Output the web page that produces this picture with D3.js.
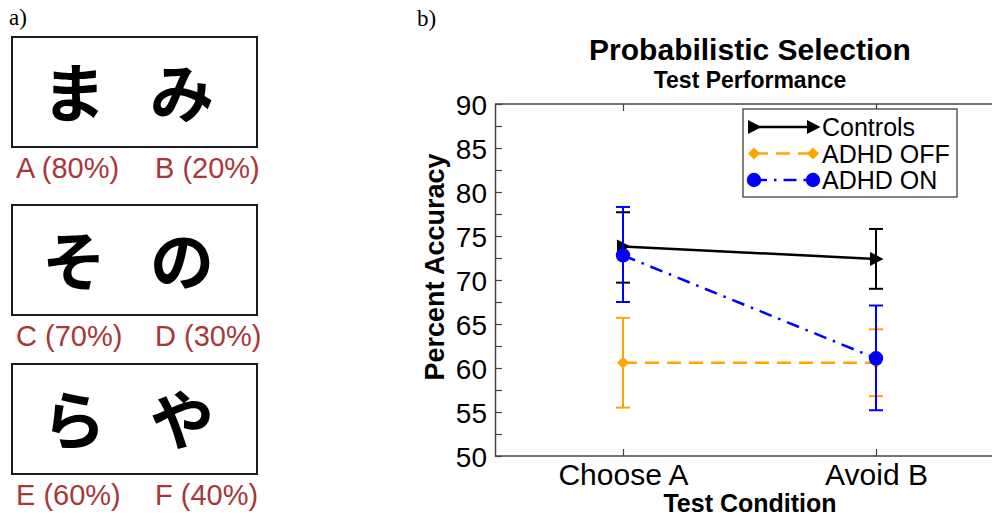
<!DOCTYPE html>
<html>
<head>
<meta charset="utf-8">
<script src="https://cdn.jsdelivr.net/npm/d3@7"></script>
<style>
  body { margin: 0; background: #fff; }
  svg { display: block; }
</style>
</head>
<body>
<script>
// panel a: stimuli
const kana = ["ま", "み", "そ", "の", "ら", "や"];
const kanaLetters = ["A", "B", "C", "D", "E", "F"];
const kanaProb = [80, 20, 70, 30, 60, 40];

// panel b: test performance
const conditions = ["Choose A", "Avoid B"];
const groups = ["Controls", "ADHD OFF", "ADHD ON"];
const controlsMean = [73.8, 72.4];
const controlsLow = [69.7, 69.0];
const controlsHigh = [77.7, 75.8];
const offMean = [60.6, 60.6];
const offLow = [55.5, 56.8];
const offHigh = [65.7, 64.4];
const onMean = [72.8, 61.1];
const onLow = [67.5, 55.2];
const onHigh = [78.3, 67.1];
const yTicks = [50, 55, 60, 65, 70, 75, 80, 85, 90];
const yMinor = [52.5, 57.5, 62.5, 67.5, 72.5, 77.5, 82.5, 87.5];

const W = 992, H = 517;
const svg = d3.select("body").append("svg").attr("width", W).attr("height", H);

const sans = "'Liberation Sans', Arial, Helvetica, sans-serif";
const serif = "'Liberation Serif', 'Times New Roman', serif";

// ---------- panel a ----------
svg.append("text").attr("x", 9).attr("y", 25)
  .attr("font-family", serif).attr("font-size", 23).text("a)");

const pairs = d3.range(3);
const boxTop = d3.scaleOrdinal().domain(pairs).range([37, 205, 364]);
const boxH = 110;
const colX = d3.scalePoint().domain([0, 1]).range([74, 182]);
const labX = d3.scalePoint().domain([0, 1]).range([16, 155]);

const pa = svg.append("g");
pa.selectAll("rect.box").data(pairs).enter().append("rect")
  .attr("class", "box")
  .attr("x", 12).attr("y", d => boxTop(d))
  .attr("width", 245).attr("height", boxH)
  .attr("fill", "none").attr("stroke", "#1a1a1a").attr("stroke-width", 2);

const stim = kana.map((k, i) => ({k: k, letter: kanaLetters[i], p: kanaProb[i], row: Math.floor(i / 2), col: i % 2}));

pa.selectAll("text.kana").data(stim).enter().append("text")
  .attr("class", "kana")
  .attr("x", d => colX(d.col))
  .attr("y", d => boxTop(d.row) + 80)
  .attr("text-anchor", "middle")
  .attr("font-family", "'Noto Sans CJK JP', sans-serif")
  .attr("font-weight", 700)
  .attr("font-size", 64)
  .attr("fill", "#000")
  .text(d => d.k);

pa.selectAll("text.lab").data(stim).enter().append("text")
  .attr("class", "lab")
  .attr("x", d => labX(d.col))
  .attr("y", d => boxTop(d.row) + boxH + 31)
  .attr("font-family", sans).attr("font-size", 29)
  .attr("fill", "#a8373a")
  .text(d => d.letter + " (" + d.p + "%)");

// ---------- panel b ----------
svg.append("text").attr("x", 417).attr("y", 26)
  .attr("font-family", serif).attr("font-size", 23).text("b)");

const pLeft = 495, pRight = 992, pTop = 104, pBottom = 456;
const y = d3.scaleLinear().domain([50, 90]).range([pBottom, pTop]);
const x = d3.scalePoint().domain(conditions).range([623, 876]);

const g = svg.append("g");
const axisCol = "#444";

// frame lines
g.append("line").attr("x1", pLeft).attr("x2", pRight).attr("y1", pTop).attr("y2", pTop)
  .attr("stroke", axisCol).attr("stroke-width", 1.5);
g.append("line").attr("x1", pLeft).attr("x2", pRight).attr("y1", pBottom).attr("y2", pBottom)
  .attr("stroke", axisCol).attr("stroke-width", 1.5);

// y axis with inward ticks
const yAxis = d3.axisLeft(y).tickValues(yTicks.concat(yMinor)).tickSizeInner(-7).tickSizeOuter(0)
  .tickFormat(d => yTicks.includes(d) ? d : "");
const ya = g.append("g").attr("transform", "translate(" + pLeft + ",0)").call(yAxis);
ya.select(".domain").attr("stroke", axisCol).attr("stroke-width", 1.5);
ya.selectAll(".tick line").attr("stroke", axisCol).attr("stroke-width", 1.2);
ya.selectAll(".tick text").attr("x", -8).attr("dy", "0.36em")
  .attr("font-family", sans).attr("font-size", 28).attr("fill", "#000");

// x axis, bottom
const xAxis = d3.axisBottom(x).tickSizeInner(-7).tickSizeOuter(0);
const xa = g.append("g").attr("transform", "translate(0," + pBottom + ")").call(xAxis);
xa.select(".domain").remove();
xa.selectAll(".tick line").attr("stroke", axisCol).attr("stroke-width", 1.2);
xa.selectAll(".tick text").attr("y", 29).attr("dy", 0)
  .attr("font-family", sans).attr("font-size", 30).attr("fill", "#000");

// top ticks
const xTop = d3.axisTop(x).tickSizeInner(-7).tickSizeOuter(0).tickFormat("");
const xt = g.append("g").attr("transform", "translate(0," + pTop + ")").call(xTop);
xt.select(".domain").remove();
xt.selectAll(".tick line").attr("stroke", axisCol).attr("stroke-width", 1.2);

// titles
svg.append("text").attr("x", 750).attr("y", 60).attr("text-anchor", "middle")
  .attr("font-family", sans).attr("font-weight", "bold").attr("font-size", 30)
  .text("Probabilistic Selection");
svg.append("text").attr("x", 750).attr("y", 88).attr("text-anchor", "middle")
  .attr("font-family", sans).attr("font-weight", "bold").attr("font-size", 23)
  .text("Test Performance");
svg.append("text").attr("x", 750).attr("y", 512).attr("text-anchor", "middle")
  .attr("font-family", sans).attr("font-weight", "bold").attr("font-size", 25)
  .text("Test Condition");
svg.append("text").attr("transform", "translate(444,267) rotate(-90)").attr("text-anchor", "middle")
  .attr("font-family", sans).attr("font-weight", "bold").attr("font-size", 27)
  .text("Percent Accuracy");

// series
const triPath = "M-6,-7L7.5,0L-6,7Z";
const diamond = d3.symbol().type(d3.symbolSquare).size(72)();
const circle = d3.symbol().type(d3.symbolCircle).size(Math.PI * 52)();

const series = [
  {name: groups[0], mean: controlsMean, lo: controlsLow, hi: controlsHigh, color: "#000", dash: null, marker: triPath, rot: 0},
  {name: groups[1], mean: offMean, lo: offLow, hi: offHigh, color: "#ffa500", dash: "14,8", marker: diamond, rot: 45},
  {name: groups[2], mean: onMean, lo: onLow, hi: onHigh, color: "#0000ff", dash: "13,7,2.5,7", marker: circle, rot: 0}
];

const line = d3.line().x(d => x(d.c)).y(d => y(d.v));

series.forEach(s => {
  const pts = conditions.map((c, i) => ({c: c, v: s.mean[i], lo: s.lo[i], hi: s.hi[i]}));
  const sg = g.append("g");
  // error bars
  sg.selectAll("line.err").data(pts).enter().append("line")
    .attr("x1", d => x(d.c)).attr("x2", d => x(d.c))
    .attr("y1", d => y(d.lo)).attr("y2", d => y(d.hi))
    .attr("stroke", s.color).attr("stroke-width", 2);
  ["lo", "hi"].forEach(k => {
    sg.selectAll("line.cap" + k).data(pts).enter().append("line")
      .attr("x1", d => x(d.c) - 7).attr("x2", d => x(d.c) + 7)
      .attr("y1", d => y(d[k])).attr("y2", d => y(d[k]))
      .attr("stroke", s.color).attr("stroke-width", 2);
  });
  sg.append("path").datum(pts).attr("d", line)
    .attr("fill", "none").attr("stroke", s.color).attr("stroke-width", 2.5)
    .attr("stroke-dasharray", s.dash);
  sg.selectAll("path.mk").data(pts).enter().append("path")
    .attr("d", s.marker)
    .attr("transform", d => "translate(" + x(d.c) + "," + y(d.v) + ") rotate(" + s.rot + ")")
    .attr("fill", s.color);
});

// legend
const lg = svg.append("g");
lg.append("rect").attr("x", 743).attr("y", 109).attr("width", 214).attr("height", 88)
  .attr("fill", "#fff").attr("stroke", "#333").attr("stroke-width", 1.2);
const ly = d3.scalePoint().domain(groups).range([127, 180]);
series.forEach(s => {
  const yy = ly(s.name);
  lg.append("line").attr("x1", 754).attr("x2", 813).attr("y1", yy).attr("y2", yy)
    .attr("stroke", s.color).attr("stroke-width", 2.5).attr("stroke-dasharray", s.dash);
  [754, 813].forEach(xx => {
    lg.append("path").attr("d", s.marker)
      .attr("transform", "translate(" + xx + "," + yy + ") rotate(" + s.rot + ")")
      .attr("fill", s.color);
  });
  lg.append("text").attr("x", 822).attr("y", yy + 9)
    .attr("font-family", sans).attr("font-size", 25).text(s.name);
});
</script>
</body>
</html>
